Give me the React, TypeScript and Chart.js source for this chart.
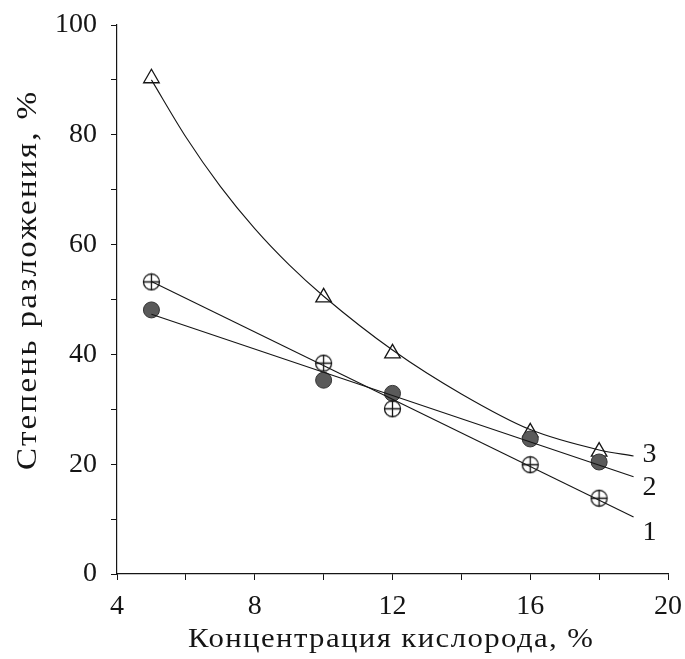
import React, { useEffect, useRef } from 'react';
import { Chart, registerables } from 'chart.js';

Chart.register(...registerables);

const FONT = '"Liberation Serif", "Times New Roman", serif';

const xTitle = 'Концентрация кислорода, %';
const yTitle = 'Степень разложения, %';

// measured points
const concentrations = [5, 10, 12, 16, 18];
const series1 = [53.2, 38.4, 30.1, 19.9, 13.8];
const series2 = [48.1, 35.3, 32.9, 24.6, 20.4];
const series3 = [90.3, 50.4, 40.2, 25.8, 22.3];

// fitted curves
const fit1X = [5, 19];
const fit1Y = [53.3, 10.4];
const fit2X = [5, 19];
const fit2Y = [47.3, 17.7];
const fit3X = [5, 6, 7, 8, 9, 10, 12, 14, 16, 18, 19];
const fit3Y = [90, 79.6, 70.6, 62.9, 56.3, 50.6, 40.8, 32.8, 26.3, 22.6, 21.5];

// curve labels
const curveLabels = ['1', '2', '3'];
const labelX = [19.46, 19.46, 19.46];
const labelY = [7.5, 15.8, 21.7];

const xTicks = [4, 8, 12, 16, 20];
const yTicks = [0, 20, 40, 60, 80, 100];

const INK = '#151515';

function pts(xs: number[], ys: number[]) {
  return xs.map((x, i) => ({ x, y: ys[i] }));
}

function makeCirclePlus(r: number) {
  const size = Math.ceil(r * 2 + 3);
  const c = document.createElement('canvas');
  c.width = size;
  c.height = size;
  const g = c.getContext('2d')!;
  const m = size / 2;
  g.strokeStyle = INK;
  g.lineWidth = 1.3;
  g.beginPath();
  g.arc(m, m, r, 0, Math.PI * 2);
  g.stroke();
  g.beginPath();
  g.moveTo(m - r, m);
  g.lineTo(m + r, m);
  g.moveTo(m, m - r);
  g.lineTo(m, m + r);
  g.stroke();
  return c;
}

// draw text so that it spans a given length: mild horizontal widening plus letter spacing
function fitText(ctx: any, text: string, x: number, y: number, target: number) {
  ctx.letterSpacing = '0px';
  const w = ctx.measureText(text).width;
  const sx = Math.min(1.14, Math.max(1, target / w));
  const n = Array.from(text).length;
  const sp = n > 1 ? Math.max(0, (target / sx - w) / (n - 1)) : 0;
  ctx.save();
  ctx.translate(x, y);
  ctx.scale(sx, 1);
  ctx.letterSpacing = `${sp.toFixed(2)}px`;
  ctx.fillText(text, 0, 0);
  ctx.restore();
}

const annotate = {
  id: 'annotate',
  afterDraw(chart: any) {
    const { ctx, scales } = chart;
    const x = scales.x;
    const y = scales.y;
    ctx.save();
    ctx.fillStyle = INK;
    ctx.textAlign = 'center';
    ctx.textBaseline = 'middle';
    ctx.font = `28px ${FONT}`;
    curveLabels.forEach((t, i) => {
      ctx.fillText(t, x.getPixelForValue(labelX[i]), y.getPixelForValue(labelY[i]));
    });
    // x title
    ctx.textAlign = 'left';
    ctx.textBaseline = 'alphabetic';
    ctx.font = `27px ${FONT}`;
    fitText(ctx, xTitle, 188, 647, 405);
    // y title
    ctx.save();
    ctx.translate(36, 470);
    ctx.rotate(-Math.PI / 2);
    ctx.font = `29px ${FONT}`;
    fitText(ctx, yTitle, 0, 0, 378);
    ctx.restore();
    ctx.restore();
  },
};

export default function App() {
  const ref = useRef<HTMLCanvasElement | null>(null);

  useEffect(() => {
    if (!ref.current) return;
    const circlePlus = makeCirclePlus(8);
    const chart = new Chart(ref.current, {
      type: 'line',
      data: {
        datasets: [
          {
            label: 'fit1',
            data: pts(fit1X, fit1Y),
            borderColor: INK,
            borderWidth: 1.1,
            pointRadius: 0,
            fill: false,
            order: 1,
          },
          {
            label: 'fit2',
            data: pts(fit2X, fit2Y),
            borderColor: INK,
            borderWidth: 1.1,
            pointRadius: 0,
            fill: false,
            order: 1,
          },
          {
            label: 'fit3',
            data: pts(fit3X, fit3Y),
            borderColor: INK,
            borderWidth: 1.1,
            pointRadius: 0,
            fill: false,
            cubicInterpolationMode: 'monotone',
            order: 1,
          },
          {
            label: '3',
            data: pts(concentrations, series3),
            showLine: false,
            pointStyle: 'triangle',
            pointRadius: 9,
            pointBackgroundColor: 'rgba(255,255,255,0)',
            pointBorderColor: INK,
            pointBorderWidth: 1.3,
            order: 4,
          },
          {
            label: '2',
            data: pts(concentrations, series2),
            showLine: false,
            pointStyle: 'circle',
            pointRadius: 8,
            pointBackgroundColor: '#5a5a5a',
            pointBorderColor: '#333333',
            pointBorderWidth: 1,
            order: 3,
          },
          {
            label: '1',
            data: pts(concentrations, series1),
            showLine: false,
            pointStyle: circlePlus as any,
            pointRadius: 8,
            order: 2,
          },
        ],
      },
      options: {
        animation: false,
        responsive: true,
        maintainAspectRatio: false,
        layout: { padding: { top: 25, right: 17, left: 0, bottom: 0 } },
        plugins: {
          legend: { display: false },
          tooltip: { enabled: false },
        },
        scales: {
          x: {
            type: 'linear',
            min: 4,
            max: 20,
            afterFit: (s: any) => {
              s.height = 85;
              s.paddingLeft = 0;
              s.paddingRight = 0;
            },
            ticks: {
              stepSize: 2,
              autoSkip: false,
              maxRotation: 0,
              padding: 10,
              color: INK,
              font: { family: FONT, size: 28 },
              callback: (v: any) => (xTicks.includes(Number(v)) ? String(v) : ''),
            },
            grid: {
              drawOnChartArea: false,
              drawTicks: true,
              tickLength: 6,
              color: INK,
              tickColor: INK,
            },
            border: { display: true, color: INK, width: 1.2 },
          },
          y: {
            type: 'linear',
            min: 0,
            max: 100,
            afterFit: (s: any) => {
              s.width = 117;
              s.paddingTop = 0;
              s.paddingBottom = 0;
            },
            ticks: {
              stepSize: 10,
              padding: 14,
              color: INK,
              font: { family: FONT, size: 28 },
              callback: (v: any) => (yTicks.includes(Number(v)) ? String(v) : ''),
            },
            grid: {
              drawOnChartArea: false,
              drawTicks: true,
              tickLength: 6,
              color: INK,
              tickColor: INK,
            },
            border: { display: true, color: INK, width: 1.2 },
          },
        },
      },
      plugins: [annotate],
    });
    return () => chart.destroy();
  }, []);

  return (
    <div style={{ position: 'absolute', left: 0, top: 0, width: 685, height: 659, background: '#fff' }}>
      <canvas ref={ref} />
    </div>
  );
}
